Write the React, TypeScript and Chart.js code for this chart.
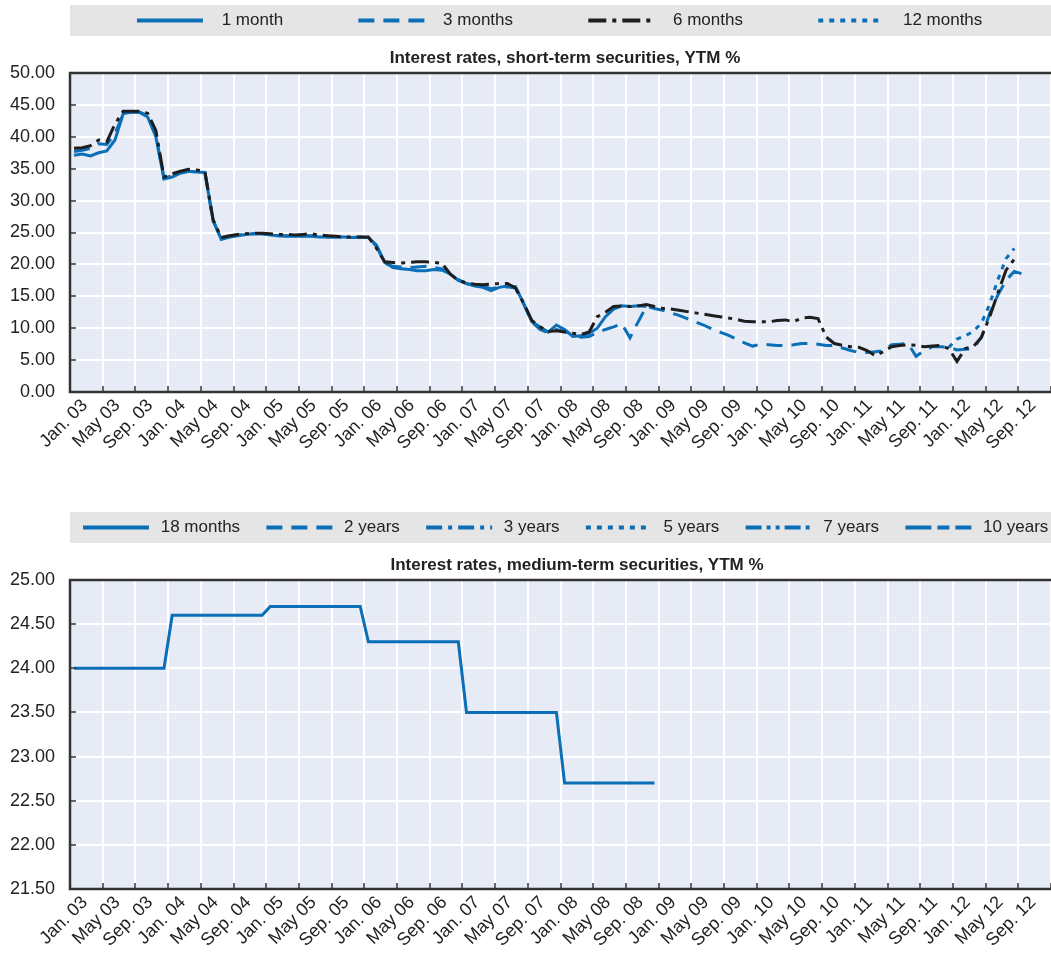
import React, { useEffect, useRef } from 'react';
import { Chart, registerables } from 'chart.js';

Chart.register(...registerables);

// ---------- DATA ----------
const X_LABELS = [
  'Jan. 03', 'May 03', 'Sep. 03', 'Jan. 04', 'May 04', 'Sep. 04',
  'Jan. 05', 'May 05', 'Sep. 05', 'Jan. 06', 'May 06', 'Sep. 06',
  'Jan. 07', 'May 07', 'Sep. 07', 'Jan. 08', 'May 08', 'Sep. 08',
  'Jan. 09', 'May 09', 'Sep. 09', 'Jan. 10', 'May 10', 'Sep. 10',
  'Jan. 11', 'May 11', 'Sep. 11', 'Jan. 12', 'May 12', 'Sep. 12',
];

// Monthly values starting Jan 2003 (index 0)
const ONE_MONTH = [
  37.1, 37.3, 37.0, 37.5, 37.8, 39.5, 43.6, 43.9, 43.8, 43.1, 40.0, 33.4,
  33.7, 34.3, 34.6, 34.5, 34.4, 27.0, 23.9, 24.3, 24.5, 24.7, 24.8, 24.8,
  24.6, 24.5, 24.4, 24.4, 24.4, 24.4, 24.3, 24.3, 24.3, 24.3, 24.2, 24.2,
  24.2, 23.0, 20.3, 19.5, 19.3, 19.2, 19.0, 19.0, 19.2, 19.1, 18.5, 17.5,
  17.0, 16.6, 16.4, 15.9, 16.4, 16.6, 16.5, 13.8, 11.0, 10.2, 9.4, 10.5,
  9.8, 8.7, 8.8, 9.2, 10.0, 11.8, 13.0, 13.5, 13.4, 13.5, 13.4,
];

const THREE_MONTHS = [
  37.7, 37.9, 38.2, 38.9, 38.8, 40.5, 43.5, 43.9, 43.9, 43.3, 40.2, 33.5,
  33.9, 34.4, 34.6, 34.5, 34.4, 26.8, 24.0, 24.3, 24.6, 24.7, 24.8, 24.8,
  24.6, 24.5, 24.5, 24.5, 24.5, 24.5, 24.4, 24.3, 24.3, 24.3, 24.2, 24.3,
  24.2, 22.8, 20.2, 19.7, 19.6, 19.5, 19.6, 19.7, 19.5, 19.3, 18.6, 17.6,
  17.0, 16.8, 16.6, 16.2, 16.4, 16.5, 16.3, 13.8, 11.0, 9.8, 9.3, 9.8,
  9.5, 9.0, 8.6, 8.7, 9.3, 9.8, 10.2, 10.7, 8.5, 11.0, 13.4, 13.1,
  12.8, 12.4, 12.0, 11.5, 11.0, 10.5, 9.9, 9.4, 8.9, 8.3, 7.7, 7.2,
  7.5, 7.4, 7.3, 7.3, 7.4, 7.6, 7.6, 7.5, 7.3, 7.3, 6.9, 6.5,
  6.2, 6.2, 6.3, 6.5, 7.4, 7.5, 7.6, 5.6, 6.5, 7.1, 7.1, 7.0,
  6.6, 6.7, 6.8, 8.6, 12.3, 15.2, 17.5, 18.9, 18.5,
];

const SIX_MONTHS = [
  38.2, 38.3, 38.6, 39.5, 39.2, 42.0, 44.0, 44.0, 44.0, 43.7, 41.0, 33.7,
  34.2, 34.6, 34.9, 34.8, 34.6, 27.0, 24.2, 24.5, 24.7, 24.8, 24.9, 24.9,
  24.8, 24.7, 24.7, 24.6, 24.7, 24.8, 24.6, 24.5, 24.4, 24.3, 24.3, 24.3,
  24.3, 22.5, 20.4, 20.3, 20.2, 20.3, 20.4, 20.4, 20.3, 20.2, 18.5, 17.5,
  17.1, 16.9, 16.8, 16.9, 17.0, 17.0, 16.3, 13.9, 11.2, 10.2, 9.5, 9.6,
  9.4, 9.2, 9.0, 9.4, 11.8, 12.5, 13.4, 13.5, 13.4, 13.5, 13.7, 13.4,
  13.1, 13.0, 12.8, 12.6, 12.4, 12.2, 12.0, 11.8, 11.6, 11.4, 11.1, 11.0,
  11.0, 11.0, 11.2, 11.3, 11.0, 11.6, 11.7, 11.5, 8.6, 7.6, 7.3, 7.1,
  7.0, 6.5, 5.7, 6.3, 7.1, 7.3, 7.4, 7.3, 7.1, 7.2, 7.3, 6.8,
  4.8, 6.8, 7.1, 8.6, 11.8, 15.5, 19.1, 20.8,
];

// 12 months: first observation in Dec 2011 (index 107)
const TWELVE_MONTHS_START = 107;
const TWELVE_MONTHS = [7.0, 8.3, 8.8, 9.5, 10.8, 13.8, 17.6, 20.9, 22.5];

const EIGHTEEN_MONTHS = [
  24.0, 24.0, 24.0, 24.0, 24.0, 24.0, 24.0, 24.0, 24.0, 24.0, 24.0, 24.0,
  24.6, 24.6, 24.6, 24.6, 24.6, 24.6, 24.6, 24.6, 24.6, 24.6, 24.6, 24.6,
  24.7, 24.7, 24.7, 24.7, 24.7, 24.7, 24.7, 24.7, 24.7, 24.7, 24.7, 24.7,
  24.3, 24.3, 24.3, 24.3, 24.3, 24.3, 24.3, 24.3, 24.3, 24.3, 24.3, 24.3,
  23.5, 23.5, 23.5, 23.5, 23.5, 23.5, 23.5, 23.5, 23.5, 23.5, 23.5, 23.5,
  22.7, 22.7, 22.7, 22.7, 22.7, 22.7, 22.7, 22.7, 22.7, 22.7, 22.7, 22.7,
];
const TWO_YEARS: number[] = [];
const THREE_YEARS: number[] = [];
const FIVE_YEARS: number[] = [];
const SEVEN_YEARS: number[] = [];
const TEN_YEARS: number[] = [];

// ---------- STYLE ----------
const BLUE = '#0B6FB8';
const BLACK = '#1E1E1E';
const TEXT = '#222222';
const PLOT_BG = '#E6EBF5';
const LEGEND_BG = '#E5E5E5';
const AXIS_LINE = '#333333';
const FONT = "'Liberation Sans', Arial, sans-serif";
const NARROW = "'Liberation Sans Narrow', 'Liberation Sans', Arial, sans-serif";
const FS = 17;
const TICK_FS = 18;
const Y_AXIS_W = 70;
const PX_PER_MONTH = 981 / 120;
const X_MIN = -0.5;
const GRID_POS = Array.from({ length: 32 }, (_, k) => 3.5 + 4 * k);
const LABEL_POS = X_LABELS.map((_, k) => 1.3 + 4 * k);

const toPoints = (arr: number[], start = 0) => arr.map((v, i) => ({ x: start + i, y: v }));

function makeSample(color: string, dash: number[], lead: number, len: number, gap: number) {
  const c = document.createElement('canvas');
  c.width = lead + len + gap;
  c.height = 8;
  const ctx = c.getContext('2d')!;
  ctx.strokeStyle = color;
  ctx.lineWidth = 4;
  ctx.setLineDash(dash);
  ctx.beginPath();
  ctx.moveTo(lead, 4);
  ctx.lineTo(lead + len, 4);
  ctx.stroke();
  return c;
}

const decorPlugin = {
  id: 'decor',
  beforeDraw(chart: any) {
    const { ctx, chartArea: a, legend } = chart;
    const pad = chart.options.plugins.legend.labels.padding;
    const cy = legend.top + pad + FS / 2;
    ctx.save();
    ctx.fillStyle = LEGEND_BG;
    ctx.fillRect(a.left, cy - 15.5, chart.width - a.left, 31);
    ctx.fillStyle = PLOT_BG;
    ctx.fillRect(a.left, a.top, a.right - a.left, a.bottom - a.top);
    ctx.restore();
  },
  afterDraw(chart: any) {
    const { ctx, chartArea: a } = chart;
    ctx.save();
    ctx.strokeStyle = AXIS_LINE;
    ctx.lineWidth = 1.5;
    const xs = chart.scales.x;
    xs.ticks.forEach((t: any) => {
      const px = Math.round(xs.getPixelForValue(t.value));
      ctx.beginPath();
      ctx.moveTo(px, a.bottom);
      ctx.lineTo(px, a.bottom - 6);
      ctx.stroke();
    });
    const ys = chart.scales.y;
    ys.ticks.forEach((t: any) => {
      const py = Math.round(ys.getPixelForValue(t.value));
      ctx.beginPath();
      ctx.moveTo(a.left, py);
      ctx.lineTo(a.left + 6, py);
      ctx.stroke();
    });
    ctx.lineWidth = 2.5;
    ctx.beginPath();
    ctx.moveTo(a.right + 2, a.top);
    ctx.lineTo(a.left, a.top);
    ctx.lineTo(a.left, a.bottom);
    ctx.lineTo(a.right + 2, a.bottom);
    ctx.stroke();
    ctx.restore();
  },
};

type Series = { label: string; data: { x: number; y: number }[]; color: string; dash: number[]; order: number };

function makeConfig(opts: {
  series: Series[];
  canvasW: number;
  rightPad: number;
  yMin: number; yMax: number; yStep: number;
  title: string;
  padTop: number;
  legendPad: number;
  sampleLead: number;
  sampleGap: number;
  axisH: number;
}) {
  const samples = opts.series.map((s) => makeSample(s.color, s.dash, opts.sampleLead, 66, opts.sampleGap));
  const sampleW = opts.sampleLead + 66 + opts.sampleGap;
  const xMax = X_MIN + (opts.canvasW - opts.rightPad - Y_AXIS_W) / PX_PER_MONTH;
  return {
    type: 'line',
    data: {
      datasets: opts.series.map((s) => ({
        label: s.label,
        data: s.data,
        borderColor: s.color,
        backgroundColor: s.color,
        borderDash: s.dash,
        borderWidth: 3,
        pointRadius: 0,
        tension: 0,
        fill: false,
        order: s.order,
        xAxisID: 'x',
        yAxisID: 'y',
      })),
    },
    options: {
      responsive: false,
      animation: false,
      events: [],
      layout: { padding: { top: opts.padTop, right: 0, left: 0, bottom: 0 } },
      plugins: {
        tooltip: { enabled: false },
        legend: {
          display: true,
          position: 'top',
          align: 'center',
          fullSize: true,
          weight: 3000,
          labels: {
            usePointStyle: true,
            pointStyleWidth: sampleW,
            padding: opts.legendPad,
            color: TEXT,
            font: { family: FONT, size: FS },
            generateLabels: (chart: any) =>
              chart.data.datasets.map((ds: any, i: number) => ({
                text: ds.label,
                pointStyle: samples[i],
                fillStyle: ds.borderColor,
                strokeStyle: ds.borderColor,
                lineWidth: 0,
                hidden: false,
                datasetIndex: i,
                fontColor: TEXT,
              })),
          },
        },
        title: {
          display: true,
          text: opts.title,
          fullSize: false,
          color: TEXT,
          font: { family: NARROW, size: FS, weight: 'bold' },
          padding: { top: 9, bottom: 4.6 },
        },
      },
      scales: {
        x: {
          type: 'linear',
          position: 'bottom',
          min: X_MIN,
          max: xMax,
          border: { display: false },
          grid: { color: '#FFFFFF', lineWidth: 2, drawTicks: false },
          ticks: { display: false },
          afterBuildTicks: (s: any) => { s.ticks = GRID_POS.filter((v) => v < xMax).map((v) => ({ value: v })); },
          afterFit: (s: any) => { s.height = 0; },
        },
        xl: {
          type: 'linear',
          position: 'bottom',
          min: X_MIN,
          max: xMax,
          border: { display: false },
          grid: { display: false, drawTicks: false },
          ticks: {
            autoSkip: false,
            minRotation: 45,
            maxRotation: 45,
            padding: 3,
            color: TEXT,
            font: { family: FONT, size: TICK_FS },
            callback: (_v: any, i: number) => X_LABELS[i],
          },
          afterBuildTicks: (s: any) => { s.ticks = LABEL_POS.map((v) => ({ value: v })); },
          afterFit: (s: any) => { s.height = opts.axisH; },
        },
        y: {
          type: 'linear',
          position: 'left',
          min: opts.yMin,
          max: opts.yMax,
          border: { display: false },
          grid: { color: '#FFFFFF', lineWidth: 2, drawTicks: false },
          ticks: {
            stepSize: opts.yStep,
            padding: 15,
            color: TEXT,
            font: { family: FONT, size: TICK_FS },
            callback: (v: any) => Number(v).toFixed(2),
          },
          afterFit: (s: any) => { s.width = Y_AXIS_W; },
        },
        yr: {
          type: 'linear',
          position: 'right',
          min: opts.yMin,
          max: opts.yMax,
          border: { display: false },
          grid: { display: false, drawTicks: false },
          ticks: { display: false },
          afterFit: (s: any) => { s.width = opts.rightPad; },
        },
      },
    },
    plugins: [decorPlugin],
  } as any;
}

const TOP_W = 1060;
const TOP_H = 474;
const TOP_Y = -4;
const BOT_W = 1105;
const BOT_RIGHT = 21;
const BOT_H = 455;
const BOT_Y = 509;

export default function App() {
  const topRef = useRef<HTMLCanvasElement>(null);
  const botRef = useRef<HTMLCanvasElement>(null);

  useEffect(() => {
    document.body.style.margin = '0';
    const top = new Chart(topRef.current!, makeConfig({
      series: [
        { label: '1 month', data: toPoints(ONE_MONTH), color: BLUE, dash: [], order: 1 },
        { label: '3 months', data: toPoints(THREE_MONTHS), color: BLUE, dash: [16, 9], order: 2 },
        { label: '6 months', data: toPoints(SIX_MONTHS), color: BLACK, dash: [18, 6, 4, 6], order: 0 },
        { label: '12 months', data: toPoints(TWELVE_MONTHS, TWELVE_MONTHS_START), color: BLUE, dash: [5, 6], order: 0 },
      ],
      canvasW: TOP_W,
      rightPad: 0,
      yMin: 0, yMax: 50, yStep: 5,
      title: 'Interest rates, short-term securities, YTM %',
      padTop: 0,
      legendPad: 16,
      sampleLead: 59,
      sampleGap: 10.5,
      axisH: 78,
    }));
    const bot = new Chart(botRef.current!, makeConfig({
      series: [
        { label: '18 months', data: toPoints(EIGHTEEN_MONTHS), color: BLUE, dash: [], order: 0 },
        { label: '2 years', data: toPoints(TWO_YEARS), color: BLUE, dash: [16, 9], order: 1 },
        { label: '3 years', data: toPoints(THREE_YEARS), color: BLUE, dash: [16, 6, 4, 6], order: 2 },
        { label: '5 years', data: toPoints(FIVE_YEARS), color: BLUE, dash: [5, 6], order: 3 },
        { label: '7 years', data: toPoints(SEVEN_YEARS), color: BLUE, dash: [16, 5, 4, 5, 4, 5], order: 4 },
        { label: '10 years', data: toPoints(TEN_YEARS), color: BLUE, dash: [26, 6, 12, 6], order: 5 },
      ],
      canvasW: BOT_W,
      rightPad: BOT_RIGHT,
      yMin: 21.5, yMax: 25, yStep: 0.5,
      title: 'Interest rates, medium-term securities, YTM %',
      padTop: 10,
      legendPad: 0,
      sampleLead: 26,
      sampleGap: 3.5,
      axisH: 75,
    }));
    return () => { top.destroy(); bot.destroy(); };
  }, []);

  return (
    <div style={{ position: 'absolute', left: 0, top: 0, width: 1051, height: 964, overflow: 'hidden', background: '#FFFFFF' }}>
      <canvas ref={topRef} width={TOP_W} height={TOP_H} style={{ position: 'absolute', left: 0, top: TOP_Y, width: TOP_W, height: TOP_H }} />
      <canvas ref={botRef} width={BOT_W} height={BOT_H} style={{ position: 'absolute', left: 0, top: BOT_Y, width: BOT_W, height: BOT_H }} />
    </div>
  );
}
